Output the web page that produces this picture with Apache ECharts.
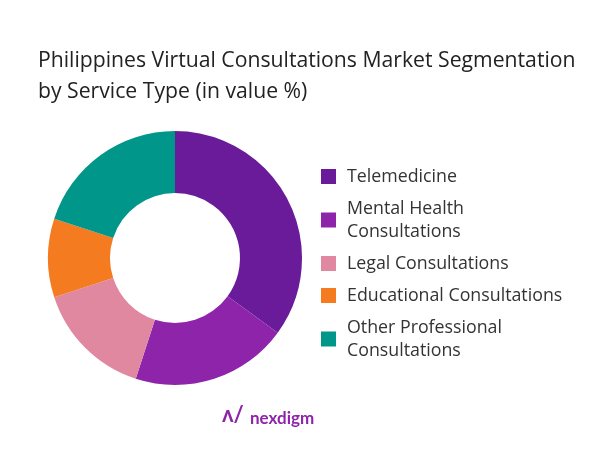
<!DOCTYPE html>
<html><head><meta charset="utf-8">
<script src="https://cdn.jsdelivr.net/npm/echarts@6/dist/echarts.min.js"></script>
<style>html,body{margin:0;padding:0;background:#fff}#c{width:602px;height:451px}</style>
</head><body><div id="c"></div>
<script>
const categories = ["Telemedicine","Mental Health\nConsultations","Legal Consultations","Educational Consultations","Other Professional\nConsultations"];
const values = [35,20,15,10,20];
const colors = ["#6A1B9A","#8E24AA","#E088A0","#F47B20","#00968A"];
const chart = echarts.init(document.getElementById('c'));
chart.setOption({
  animation:false,
  title:{text:"Philippines Virtual Consultations Market Segmentation\nby Service Type (in value %)",left:33,top:40,
    textStyle:{fontFamily:"Open Sans",fontSize:21.2,fontWeight:"normal",color:"#222",lineHeight:31}},
  legend:{orient:"vertical",left:316,top:160,itemWidth:15,itemHeight:15,itemGap:9,icon:"rect",
    textStyle:{fontFamily:"Open Sans",fontSize:17.8,color:"#333",lineHeight:23,padding:[0,0,0,6]},
    data:categories},
  graphic:[{type:"text",left:250,top:410,style:{text:"nexdigm",fontFamily:"Lato",fontSize:17,fontWeight:"bold",fill:"#8E24AA"}},
           {type:"text",left:222,top:404,style:{text:"ʌ/",fontFamily:"Lato",fontSize:22,fontWeight:"bold",fill:"#8E24AA"}}],
  series:[{type:"pie",center:[175,258],radius:[65,127],startAngle:90,clockwise:true,
    label:{show:false},labelLine:{show:false},
    data:categories.map((n,i)=>({name:n,value:values[i],itemStyle:{color:colors[i]}}))}]
});
</script></body></html>
